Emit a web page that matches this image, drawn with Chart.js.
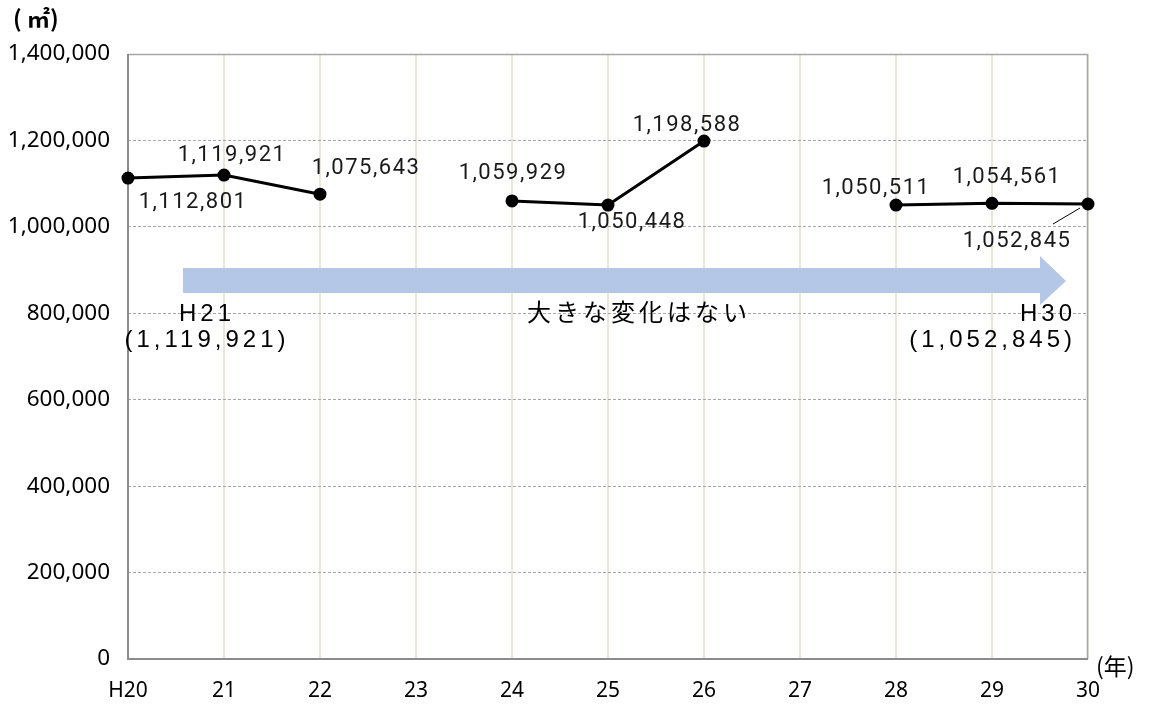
<!DOCTYPE html>
<html>
<head>
<meta charset="utf-8">
<script src="https://cdn.jsdelivr.net/npm/chart.js@4/dist/chart.umd.min.js"></script>
<style>
  html, body { margin: 0; padding: 0; background: #fff; }
  #wrap { width: 1157px; height: 709px; }
</style>
</head>
<body>
<div id="wrap"><canvas id="areaChart"></canvas></div>
<script>
// data
const years = ['H20', '21', '22', '23', '24', '25', '26', '27', '28', '29', '30'];
const areas = [1112801, 1119921, 1075643, null, 1059929, 1050448, 1198588, null, 1050511, 1054561, 1052845];
const yTicks = [0, 200000, 400000, 600000, 800000, 1000000, 1200000, 1400000];

// where each value label sits relative to its point (dx, dy)
const labelOffsets = [[65, 24], [8, -20], [46, -26], null, [1, -27], [24, 17], [-17, -16], null, [-20, -17], [15, -26], [-71, 37]];

const fmt = v => v.toLocaleString('en-US');

// border, value labels, arrow and notes
const decor = {
    id: 'decor',
    beforeDatasetsDraw(chart) {
        const { ctx, chartArea: a } = chart;
        ctx.save();
        ctx.strokeStyle = '#a6a6a6';
        ctx.lineWidth = 1.5;
        ctx.beginPath();
        ctx.moveTo(a.left, a.top + 0.5);
        ctx.lineTo(a.right - 0.5, a.top + 0.5);
        ctx.lineTo(a.right - 0.5, a.bottom);
        ctx.stroke();
        ctx.strokeStyle = '#8c8c8c';
        ctx.lineWidth = 2;
        ctx.beginPath();
        ctx.moveTo(a.left, a.top);
        ctx.lineTo(a.left, a.bottom);
        ctx.lineTo(a.right, a.bottom);
        ctx.stroke();

        // arrow
        ctx.fillStyle = '#b4c7e7';
        ctx.beginPath();
        ctx.moveTo(183, 268);
        ctx.lineTo(1040, 268);
        ctx.lineTo(1040, 256);
        ctx.lineTo(1066, 281);
        ctx.lineTo(1040, 305);
        ctx.lineTo(1040, 293);
        ctx.lineTo(183, 293);
        ctx.closePath();
        ctx.fill();
        ctx.restore();
    },
    afterDatasetsDraw(chart) {
        const { ctx } = chart;
        const xs = chart.scales.x, ys = chart.scales.y;
        ctx.save();
        ctx.fillStyle = '#1a1a1a';
        ctx.font = '22px Roboto';
        ctx.letterSpacing = '1.5px';
        ctx.textAlign = 'center';
        ctx.textBaseline = 'middle';
        areas.forEach((v, i) => {
            if (v === null) return;
            const x = xs.getPixelForValue(i), y = ys.getPixelForValue(v);
            const o = labelOffsets[i];
            ctx.fillText(fmt(v), x + o[0], y + o[1]);
        });
        // leader line for last label
        const lx = xs.getPixelForValue(10), ly = ys.getPixelForValue(areas[10]);
        ctx.strokeStyle = '#000';
        ctx.lineWidth = 1;
        ctx.beginPath();
        ctx.moveTo(lx - 8, ly + 4);
        ctx.lineTo(lx - 35, ly + 20);
        ctx.stroke();

        // notes on the arrow
        ctx.fillStyle = '#000';
        ctx.font = '24px "Liberation Sans"';
        ctx.letterSpacing = '4px';
        ctx.fillText('H21', 207, 314);
        ctx.fillText('(1,119,921)', 207, 340);
        ctx.textAlign = 'right';
        ctx.fillText('H30', 1076, 314);
        ctx.fillText('(1,052,845)', 1076, 340);
        ctx.textAlign = 'center';
        ctx.font = '24px "Noto Sans CJK JP"';
        ctx.fillText('大きな変化はない', 639, 312);

        // units
        ctx.letterSpacing = '0px';
        ctx.font = '23px "Noto Sans CJK JP"';
        ctx.textAlign = 'left';
        ctx.fillText('(年)', 1096, 666);
        ctx.font = 'bold 23px "Noto Sans CJK JP"';
        ctx.fillText('( ㎡)', 13, 18);
        ctx.restore();
    }
};

const ctxEl = document.getElementById('areaChart').getContext('2d');
const areaChart = new Chart(ctxEl, {
    type: 'line',
    data: {
        labels: years,
        datasets: [{
            label: '面積',
            data: areas,
            borderColor: '#000',
            backgroundColor: '#000',
            borderWidth: 3,
            pointRadius: 5,
            pointHoverRadius: 5,
            spanGaps: false,
            tension: 0
        }]
    },
    options: {
        responsive: true,
        maintainAspectRatio: false,
        animation: false,
        layout: { padding: { top: 54, right: 69, left: 0, bottom: 0 } },
        plugins: {
            legend: { display: false },
            tooltip: { enabled: false }
        },
        scales: {
            x: {
                offset: false,
                grid: { color: '#ebe6d5', lineWidth: 2, drawTicks: false },
                border: { display: false },
                ticks: { color: '#000', font: { family: 'Noto Sans', size: 21 }, padding: 19, maxRotation: 0 },
                afterFit: s => { s.height = 50; }
            },
            y: {
                min: 0,
                max: 1400000,
                afterBuildTicks: s => { s.ticks = yTicks.map(v => ({ value: v })); },
                grid: { color: '#a6a6a6', lineWidth: 1, drawTicks: false },
                border: { display: false, dash: [3, 2] },
                ticks: {
                    color: '#000',
                    font: { family: 'Noto Sans', size: 22.5 },
                    padding: 18,
                    callback: v => fmt(v)
                },
                afterFit: s => { s.width = 128; }
            }
        }
    },
    plugins: [decor]
});
</script>
</body>
</html>
